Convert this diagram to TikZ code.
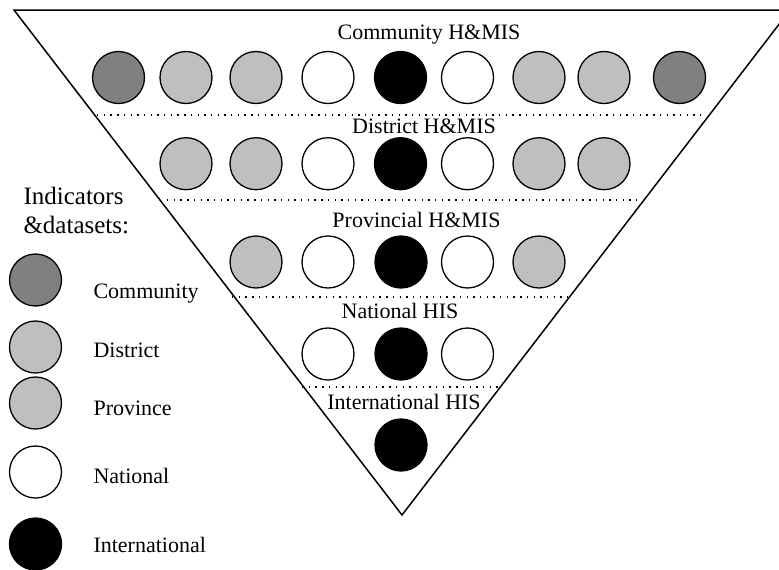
\documentclass[tikz,border=0pt]{standalone}
\usepackage{fontspec}
\setmainfont{Liberation Serif}
\tikzset{
  dot/.style={circle,draw,line width=1.3pt,minimum size=52pt,inner sep=0pt},
  comm/.style={dot,fill=black!50},
  dist/.style={dot,fill=black!25},
  natl/.style={dot,fill=white},
  intl/.style={dot,fill=black},
  lvl/.style={anchor=base,font=\fontsize{22}{26}\selectfont},
  leg/.style={anchor=base west,font=\fontsize{22}{26}\selectfont},
  sep/.style={line width=1.4pt,dash pattern=on 1.4pt off 5.3pt}
}
\begin{document}
\begin{tikzpicture}[x=1pt,y=-1pt]
  \useasboundingbox (0,0) rectangle (779,570);
  % inverted pyramid of information systems
  \coordinate (tl) at (14,10);
  \coordinate (tr) at (790,10);
  \coordinate (tip) at (402,515);
  \draw[line width=1.5pt] (tl) -- (tr) -- (tip) -- cycle;
  % level titles
  \node[lvl] (lcom) at (429,39)  {Community H\&MIS};
  \node[lvl] (ldis) at (424,133) {District H\&MIS};
  \node[lvl] (lpro) at (416.5,227) {Provincial H\&MIS};
  \node[lvl] (lnat) at (400,318) {National HIS};
  \node[lvl] (lint) at (404,409) {International HIS};
  % community row
  \node[comm] (c1) at (118.5,77.5) {};
  \node[dist] (c2) at (186,77.5) {};
  \node[dist] (c3) at (256,77.5) {};
  \node[natl] (c4) at (328,77.5) {};
  \node[intl] (c5) at (400.5,77.5) {};
  \node[natl] (c6) at (467.5,77.5) {};
  \node[dist] (c7) at (539,77.5) {};
  \node[dist] (c8) at (604,77.5) {};
  \node[comm] (c9) at (679.5,77.5) {};
  % district row
  \node[dist] (d1) at (186,163.7) {};
  \node[dist] (d2) at (256,163.7) {};
  \node[natl] (d3) at (328,163.7) {};
  \node[intl] (d4) at (400.5,163.7) {};
  \node[natl] (d5) at (467.5,163.7) {};
  \node[dist] (d6) at (539,163.7) {};
  \node[dist] (d7) at (604,163.7) {};
  % provincial row
  \node[dist] (p1) at (256,262) {};
  \node[natl] (p2) at (328,262) {};
  \node[intl] (p3) at (401,262) {};
  \node[natl] (p4) at (467.5,262) {};
  \node[dist] (p5) at (539,262) {};
  % national row
  \node[natl] (n1) at (328,354) {};
  \node[intl] (n2) at (401,354) {};
  \node[natl] (n3) at (467.5,354) {};
  % international row
  \node[intl] (i1) at (401,445) {};
  % dotted level separators
  \coordinate (s1a) at (97,115);  \coordinate (s1b) at (703,115);
  \coordinate (s2a) at (167,200); \coordinate (s2b) at (642,200);
  \coordinate (s3a) at (232,297); \coordinate (s3b) at (568,297);
  \coordinate (s4a) at (302,387); \coordinate (s4b) at (500,387);
  \draw[sep] (s1a) -- (s1b);
  \draw[sep] (s2a) -- (s2b);
  \draw[sep] (s3a) -- (s3b);
  \draw[sep] (s4a) -- (s4b);
  % legend
  \node[anchor=base west,font=\fontsize{25}{30}\selectfont] (ttl1) at (20,204) {Indicators};
  \node[anchor=base west,font=\fontsize{25}{30}\selectfont] (ttl2) at (20,233) {\&datasets:};
  \node[comm] (kc) at (35.5,280) {};
  \node[dist] (kd) at (35.5,347) {};
  \node[dist] (kp) at (35.5,403) {};
  \node[natl] (kn) at (35.5,472) {};
  \node[intl] (ki) at (35.5,544) {};
  \node[leg] (tc) at (90,298) {Community};
  \node[leg] (td) at (90,357) {District};
  \node[leg] (tp) at (90,415) {Province};
  \node[leg] (tn) at (90,483) {National};
  \node[leg] (ti) at (90,552) {International};
\end{tikzpicture}
\end{document}
